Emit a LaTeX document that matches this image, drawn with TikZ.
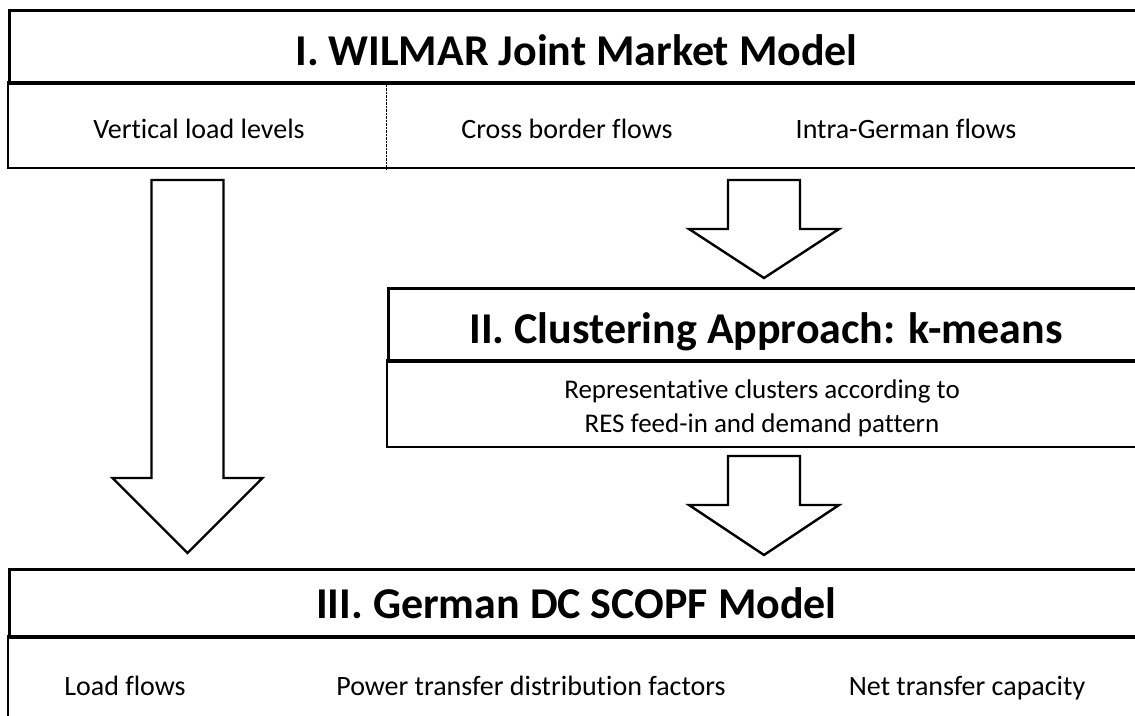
\documentclass[tikz,border=0pt]{standalone}
\usepackage{fontspec}
\setmainfont{Carlito}[Ligatures=NoCommon]
\usetikzlibrary{calc,positioning}

% block arrow from a named top point to a named tip point, #3 = head length
\newcommand{\blockarrow}[3]{%
  \draw[arrowline] ($(#1)+(-36,0)$) -- ($(#1)+(36,0)$) -- ($(#2)+(36,-#3)$)
    -- ($(#2)+(75,-#3)$) -- (#2) -- ($(#2)+(-75,-#3)$) -- ($(#2)+(-36,-#3)$) -- cycle;}

\begin{document}
\begin{tikzpicture}[x=1pt,y=-1pt,
    titlebox/.style={draw,line width=3pt,inner sep=0pt,anchor=north west,
      minimum width=1134pt,text height=55pt,text depth=18pt,
      font=\fontsize{44}{50}\selectfont\bfseries},
    infoline/.style={line width=1.2pt},
    infotext/.style={anchor=base,inner sep=0pt,font=\fontsize{28}{34}\selectfont},
    arrowline/.style={line width=2.4pt,line join=miter}]
        \useasboundingbox (0,0) rectangle (1135,715);
        \clip (0,0) rectangle (1135,715);

        % I. market model
        \draw[infoline] (8,82) rectangle (1142,168);
        \draw[densely dotted,thin] (386,82) -- (386,170);
        \node[titlebox] (wilmar) at (8,9) {I. WILMAR Joint Market Model};
        \node[infotext] (loadlevels) at (199,138) {Vertical load levels};
        \node[infotext] (crossborder) at (567,138) {Cross border flows};
        \node[infotext] (intragerman) at (906,138) {Intra-German flows};

        % II. clustering
        \draw[infoline] (387,360) rectangle (1142,447);
        \node[titlebox,minimum width=755pt] (cluster) at (387,287) {II. Clustering Approach: k-means};
        \node[infotext,anchor=north,align=center,font=\fontsize{27}{34}\selectfont] (clusters) at (762,380)
            {Representative clusters according to\\RES feed-in and demand pattern};

        % III. SCOPF model
        \draw[infoline] (8,636) rectangle (1142,740);
        \node[titlebox,text height=49pt,text depth=19pt] (scopf) at (8,568) {III. German DC SCOPF Model};
        \node[infotext] (loadflows) at (125,695) {Load flows};
        \node[infotext] (ptdf) at (531,695) {Power transfer distribution factors};
        \node[infotext] (ntc) at (967,695) {Net transfer capacity};

        % arrows
        \coordinate (lefttop) at (187.5,180);
        \coordinate (lefttip) at (187.5,553);
        \coordinate (uppertop) at (764,180);
        \coordinate (uppertip) at (764,278);
        \coordinate (lowertop) at (764,456);
        \coordinate (lowertip) at (764,555);
        \blockarrow{lefttop}{lefttip}{75}
        \blockarrow{uppertop}{uppertip}{49}
        \blockarrow{lowertop}{lowertip}{50}
\end{tikzpicture}
\end{document}
